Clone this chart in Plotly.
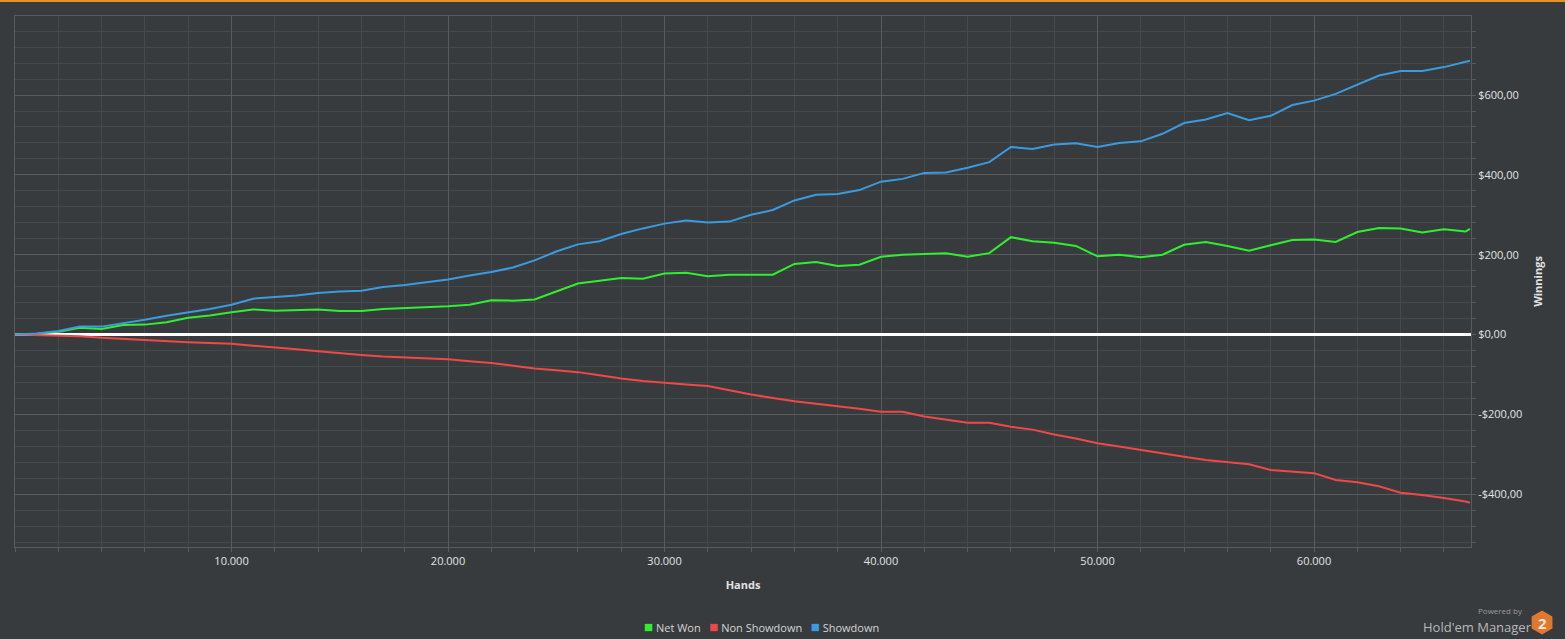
"""
Hold'em Manager style winnings graph:
Net Won / Non Showdown / Showdown over hands played.
"""

import plotly.graph_objects as go

# hands played (x) - one reading every 1000 hands
hands = [i * 1000 for i in range(68)] + [67200]

# values, in $
net_won = [
    0, 2, 7, 17, 14, 24, 25, 31, 42, 48,
    56, 63, 60, 62, 63, 59, 59, 64, 66, 68,
    71, 75, 86, 85, 88, 108, 128, 135, 142, 140,
    153, 155, 146, 150, 150, 150, 177, 182, 172, 175,
    195, 200, 202, 204, 195, 204, 244, 234, 230, 222,
    196, 200, 194, 200, 225, 232, 222, 210, 224, 237,
    238, 232, 257, 267, 266, 256, 264, 258, 265,
]
non_showdown = [
    0, -1, -3, -4, -8, -11, -14, -17, -19, -21,
    -23, -28, -32, -37, -42, -47, -51, -55, -57, -59,
    -62, -67, -71, -78, -85, -89, -94, -102, -110, -116,
    -121, -125, -129, -140, -150, -159, -167, -173, -179, -186,
    -193, -193, -205, -213, -221, -221, -231, -238, -250, -260,
    -272, -280, -289, -297, -306, -314, -320, -325, -339, -343,
    -347, -364, -370, -380, -396, -402, -409, -418, -421,
]
showdown = [
    0, 3, 9, 20, 20, 28, 37, 47, 56, 64,
    75, 90, 94, 98, 104, 108, 110, 119, 124, 131,
    138, 148, 157, 168, 186, 208, 226, 234, 252, 266,
    278, 286, 281, 283, 300, 312, 336, 350, 352, 362,
    383, 390, 405, 406, 418, 432, 470, 465, 476, 479,
    470, 480, 484, 503, 530, 539, 555, 537, 548, 575,
    586, 603, 626, 649, 660, 660, 670, 682, 686,
]

x_tickvals = [10000, 20000, 30000, 40000, 50000, 60000]
x_ticktext = ["10.000", "20.000", "30.000", "40.000", "50.000", "60.000"]
y_tickvals = [-400, -200, 0, 200, 400, 600]
y_ticktext = ["-$400,00", "-$200,00", "$0,00", "$200,00", "$400,00", "$600,00"]

series = [
    ("Net Won", net_won, "#2ef02e"),
    ("Non Showdown", non_showdown, "#f04848"),
    ("Showdown", showdown, "#3a9be0"),
]

BG = "#383b3e"
MAJOR_GRID = "#595b5e"
MINOR_GRID = "#46494c"
TEXT = "#e2e2e2"
FONT = "Open Sans, Noto Sans, sans-serif"

fig = go.Figure()

for name, vals, color in series:
    fig.add_trace(go.Scatter(
        x=hands, y=vals, mode="lines", name=name,
        line=dict(color=color, width=2),
        showlegend=False,
    ))

fig.update_layout(
    width=1565, height=639,
    paper_bgcolor=BG,
    plot_bgcolor=BG,
    margin=dict(l=15, r=94, t=16, b=92),
    font=dict(family=FONT, color=TEXT, size=11),
    xaxis=dict(
        range=[0, 67250],
        tickmode="array", tickvals=x_tickvals, ticktext=x_ticktext,
        tickfont=dict(size=11, color=TEXT),
        ticks="outside", ticklen=4, tickcolor=MAJOR_GRID,
        showgrid=True, gridcolor=MAJOR_GRID, gridwidth=1,
        minor=dict(tickmode="linear", tick0=0, dtick=2000, showgrid=True,
                   gridcolor=MINOR_GRID, ticks="outside", ticklen=4,
                   tickcolor=MAJOR_GRID),
        showline=True, linecolor=MAJOR_GRID, mirror=True,
        zeroline=False,
        title=dict(text="<b>Hands</b>", font=dict(size=11, color=TEXT), standoff=14),
    ),
    yaxis=dict(
        range=[-532, 798],
        side="right",
        tickmode="array", tickvals=y_tickvals, ticktext=y_ticktext,
        tickfont=dict(size=11, color=TEXT),
        ticks="outside", ticklen=4, tickcolor=MAJOR_GRID,
        showgrid=True, gridcolor=MAJOR_GRID, gridwidth=1,
        minor=dict(tickmode="linear", tick0=0, dtick=40, showgrid=True,
                   gridcolor=MINOR_GRID, ticks="outside", ticklen=4,
                   tickcolor=MAJOR_GRID),
        showline=True, linecolor=MAJOR_GRID, mirror=True,
        zeroline=True, zerolinecolor="#ffffff", zerolinewidth=3,
        title=dict(text="<b>Winnings</b>", font=dict(size=11, color=TEXT), standoff=12),
    ),
    showlegend=False,
)

# legend row under the axis title: small coloured squares + names
legend_text = "   ".join(
    f"<span style='color:{color};font-size:15px'>■</span> {name}"
    for name, _, color in series
)
fig.add_annotation(
    x=0.5124, y=-0.1488, xref="paper", yref="paper",
    xanchor="center", yanchor="middle",
    text=legend_text, showarrow=False,
    font=dict(size=11, color="#d4d4d4", family=FONT),
)

# orange strip along the top of the window
fig.add_shape(
    type="rect", xref="paper", yref="paper",
    x0=-0.02, x1=1.07, y0=1 + 14 / 531, y1=1 + 17 / 531,
    fillcolor="#e8922a", line_width=0, layer="above",
)

# "Powered by Hold'em Manager 2" badge
fig.add_shape(
    type="path", xref="paper", yref="paper",
    xsizemode="pixel", ysizemode="pixel",
    xanchor=1.0488, yanchor=-0.1422,
    path="M 0 12 L 10.4 6 L 10.4 -6 L 0 -12 L -10.4 -6 L -10.4 6 Z",
    fillcolor="#e0782e", line_width=0,
)
fig.add_annotation(
    x=1.0488, y=-0.1422, xref="paper", yref="paper",
    xanchor="center", yanchor="middle",
    text="<b>2</b>", showarrow=False, borderpad=0,
    font=dict(size=15, color="#f2e6dc", family=FONT),
)
fig.add_annotation(
    x=1.0428, y=-0.1318, xref="paper", yref="paper",
    xanchor="right", yanchor="top",
    text="Hold'em Manager", showarrow=False, borderpad=0,
    font=dict(size=13, color="#b8b8b8", family=FONT),
)
fig.add_annotation(
    x=1.0362, y=-0.1318, xref="paper", yref="paper",
    xanchor="right", yanchor="bottom",
    text="Powered by", showarrow=False, borderpad=0,
    font=dict(size=8, color="#9a9a9a", family=FONT),
)

fig.write_html(
    "out.html",
    config={"displayModeBar": False},
    post_script="document.body.style.margin='0';",
)
